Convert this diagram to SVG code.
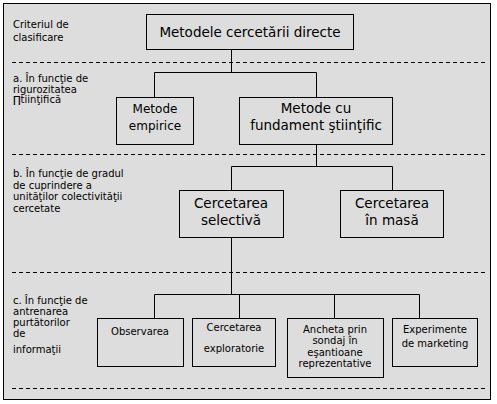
<svg xmlns="http://www.w3.org/2000/svg" width="497" height="404" viewBox="0 0 497 404">
<style>
.bg{fill:#dddddd;stroke:#000;stroke-width:1}
.box{fill:#dddddd;stroke:#000;stroke-width:1}
.dash{stroke:#000;stroke-width:1;stroke-dasharray:4,3;fill:none}
.con{stroke:#000;stroke-width:1;fill:none}
text{font-family:"DejaVu Sans","Liberation Sans",sans-serif;fill:#000}
.lab{font-size:10px}
.t16{font-size:13.5px;text-anchor:middle}
.t14{font-size:13.5px;text-anchor:middle}
.t12{font-size:12px;text-anchor:middle}
.t10{font-size:10px;text-anchor:middle}
</style>
<rect x="0" y="0" width="497" height="404" fill="#ffffff"/>
<rect class="bg" x="3.5" y="3.5" width="487" height="396"/>
<g id="separators">
<line class="dash" x1="12" y1="62.5" x2="487" y2="62.5"/>
<line class="dash" x1="12" y1="154.5" x2="487" y2="154.5"/>
<line class="dash" x1="12" y1="272.5" x2="487" y2="272.5"/>
<line class="dash" x1="12" y1="388.5" x2="487" y2="388.5"/>
</g>
<g id="criteria">
<text class="lab" x="13" y="28">Criteriul de</text>
<text class="lab" x="13" y="41">clasificare</text>
<text class="lab" x="13" y="82">a. În funcţie de</text>
<text class="lab" x="13" y="93">rigurozitatea</text>
<text class="lab" x="13" y="103">∏tiinţifică</text>
<text class="lab" x="13" y="177">b. În funcţie de gradul</text>
<text class="lab" x="13" y="189">de cuprindere a</text>
<text class="lab" x="13" y="200">unităţilor colectivităţii</text>
<text class="lab" x="13" y="212">cercetate</text>
<text class="lab" x="13" y="304">c. În funcţie de</text>
<text class="lab" x="13" y="315">antrenarea</text>
<text class="lab" x="13" y="326">purtătorilor</text>
<text class="lab" x="13" y="337">de</text>
<text class="lab" x="13" y="353">informaţii</text>
</g>
<g id="connectors">
<polyline class="con" points="231.5,49 231.5,72.5"/>
<polyline class="con" points="154.5,97 154.5,72.5 316.5,72.5 316.5,97"/>
<polyline class="con" points="316.5,144 316.5,166.5"/>
<polyline class="con" points="231.5,190 231.5,166.5 392.5,166.5 392.5,190"/>
<polyline class="con" points="231.5,237 231.5,294.5"/>
<polyline class="con" points="154.5,318 154.5,294.5 419.5,294.5 419.5,318"/>
<line class="con" x1="239.5" y1="294.5" x2="239.5" y2="318"/>
<line class="con" x1="334.5" y1="294.5" x2="334.5" y2="318"/>
</g>
<g id="n-root">
<rect class="box" x="146.5" y="14.5" width="207" height="35"/>
<text class="t16" x="250" y="37">Metodele cercetării directe</text>
</g>
<g id="n-empirice">
<rect class="box" x="116.5" y="97.5" width="77" height="47"/>
<text class="t12" x="155" y="113">Metode</text>
<text class="t12" x="155" y="130">empirice</text>
</g>
<g id="n-stiintific">
<rect class="box" x="239.5" y="97.5" width="153" height="47"/>
<text class="t14" x="316" y="113">Metode cu</text>
<text class="t14" x="316" y="130">fundament ştiinţific</text>
</g>
<g id="n-selectiva">
<rect class="box" x="179.5" y="190.5" width="104" height="47"/>
<text class="t14" x="231" y="208">Cercetarea</text>
<text class="t14" x="231" y="225">selectivă</text>
</g>
<g id="n-masa">
<rect class="box" x="340.5" y="190.5" width="103" height="47"/>
<text class="t14" x="392" y="208">Cercetarea</text>
<text class="t14" x="392" y="225">în masă</text>
</g>
<g id="n-observarea">
<rect class="box" x="97.5" y="318.5" width="86" height="48"/>
<text class="t10" x="140" y="335">Observarea</text>
</g>
<g id="n-exploratorie">
<rect class="box" x="192.5" y="318.5" width="83" height="48"/>
<text class="t10" x="234" y="331">Cercetarea</text>
<text class="t10" x="234" y="352">exploratorie</text>
</g>
<g id="n-ancheta">
<rect class="box" x="287.5" y="318.5" width="96" height="59"/>
<text class="t10" x="335" y="333">Ancheta prin</text>
<text class="t10" x="335" y="344">sondaj în</text>
<text class="t10" x="335" y="356">eşantioane</text>
<text class="t10" x="335" y="367">reprezentative</text>
</g>
<g id="n-experimente">
<rect class="box" x="392.5" y="318.5" width="85" height="48"/>
<text class="t10" x="435" y="333">Experimente</text>
<text class="t10" x="435" y="347">de marketing</text>
</g>
</svg>
